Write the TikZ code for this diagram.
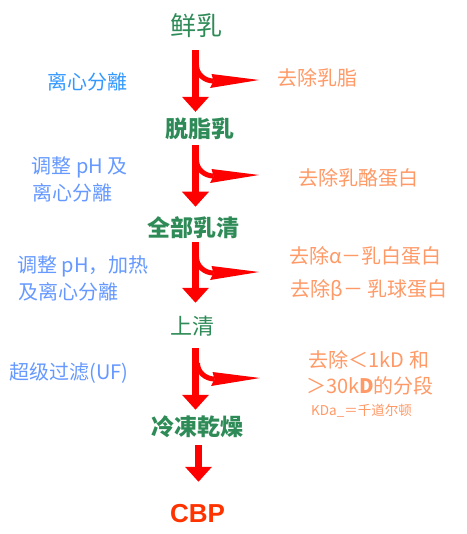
\documentclass[tikz,border=0pt]{standalone}
\usepackage{fontspec}
\setmainfont{Noto Sans CJK SC}
\newfontfamily\cbpfont{Liberation Sans}
\usetikzlibrary{arrows.meta}
\definecolor{stepgreen}{HTML}{2E8B57}
\definecolor{opblueA}{HTML}{3399FF}
\definecolor{opblueB}{HTML}{6699FF}
\definecolor{remorange}{HTML}{FF9966}
\definecolor{cbpred}{HTML}{FF3300}
\tikzset{
  product/.style={inner sep=0pt, text=stepgreen, font=\bfseries\fontsize{23}{23}\selectfont, text height=19.1pt, text depth=1.6pt},
  opA/.style={inner sep=0pt, text=opblueA, font=\fontsize{20}{20}\selectfont},
  opB/.style={inner sep=0pt, text=opblueB, font=\fontsize{20}{20}\selectfont},
  removed/.style={inner sep=0pt, text=remorange, font=\fontsize{20}{20}\selectfont},
  mainarr/.style={draw=red, line width=6.5pt, -{Triangle[width=26pt,length=15pt]}},
  pics/branch/.style={code={
    \draw[red, line width=5pt] (1,15) to[out=-90,in=180] (18,31);
    \fill[red] (16,24) -- (63.5,30) -- (14.5,38) -- (18,31) -- cycle;
  }}
}
\begin{document}
\begin{tikzpicture}[x=1pt,y=-1pt]
\useasboundingbox[fill=white] (0,0) rectangle (466,534);
\coordinate (axis) at (195.5,0);
\coordinate (axisb) at (198.5,0);
% main products
\node[product, font=\fontsize{26}{26}\selectfont, text height=21.6pt, text depth=1.8pt] (xianru) at (196,25.5) {鲜乳};
\node[product] (tuozhi) at (200,129) {脱脂乳};
\node[product] (quanbu) at (193.5,227.5) {全部乳清};
\node[product, font=\fontsize{22}{22}\selectfont, text height=18.3pt, text depth=1.5pt] (shangqing) at (192.5,326) {上清};
\node[product] (dongzao) at (197.5,427) {冷凍乾燥};
\node[inner sep=0pt, text=cbpred, font=\cbpfont\bfseries\fontsize{26}{26}\selectfont, text height=18.6pt, text depth=0pt] (cbp) at (197.5,513) {CBP};
% operations
\node[opA] (op1) at (87,82) {离心分離};
\node[opB] (op2a) at (79.5,167.5) {调整 pH 及};
\node[opB] (op2b) at (72,192.5) {离心分離};
\node[opB] (op3a) at (83,266.5) {调整 pH，加热};
\node[opB] (op3b) at (68,292) {及离心分離};
\node[opB] (op4) at (69,373) {超级过滤(UF)};
% removed fractions
\node[removed] (rm1) at (317.5,78) {去除乳脂};
\node[removed] (rm2) at (358.5,178) {去除乳酪蛋白};
\node[removed] (rm3a) at (365.5,255.5) {去除α－乳白蛋白};
\node[removed] (rm3b) at (369,290.5) {去除β－ 乳球蛋白};
\node[removed] (rm4a) at (369,360) {去除＜1kD 和};
\node[removed] (rm4b) at (370,386) {＞30k\textbf{D}的分段};
\node[removed, font=\fontsize{13.5}{13.5}\selectfont] (rm4c) at (361.5,411) {KDa\_＝千道尔顿};
% main arrows
\draw[mainarr, shorten <=12.8pt, shorten >=6.6pt] (axis |- xianru.south) -- (axis |- tuozhi.north);
\draw[mainarr, shorten <=5.6pt, shorten >=10.2pt] (axis |- tuozhi.south) -- (axis |- quanbu.north);
\draw[mainarr, shorten <=4.2pt, shorten >=13.1pt] (axis |- quanbu.south) -- (axis |- shangqing.north);
\draw[mainarr, shorten <=12.1pt, shorten >=6.7pt] (axis |- shangqing.south) -- (axis |- dongzao.north);
\draw[mainarr, shorten <=7.6pt, shorten >=21.7pt] (axisb |- dongzao.south) -- (axisb |- cbp.north);
% side branches
\pic at (195.5,50) {branch};
\pic at (195.5,145) {branch};
\pic at (195.5,242) {branch};
\pic at (196.5,348) {branch};
\end{tikzpicture}
\end{document}
